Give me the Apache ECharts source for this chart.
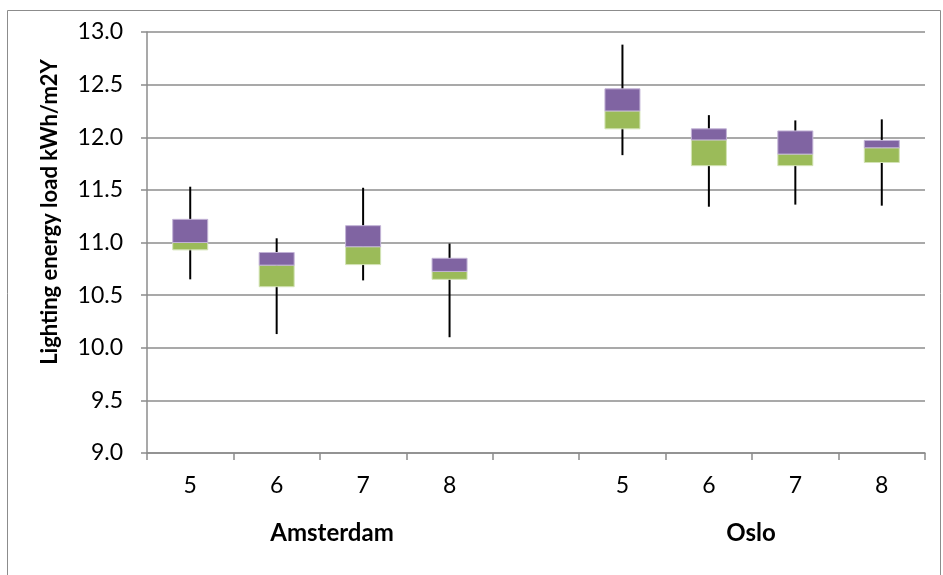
<!DOCTYPE html>
<html>
<head>
<meta charset="utf-8">
<script src="https://cdn.jsdelivr.net/npm/echarts@6/dist/echarts.min.js"></script>
<style>
  html, body { margin: 0; padding: 0; background: #ffffff; }
  #chart { width: 943px; height: 575px; }
</style>
</head>
<body>
<div id="chart"></div>
<script>
// Categories (blank slot separates the two cities)
const categories = ['5', '6', '7', '8', '', '5', '6', '7', '8'];
const groupLabels = ['Amsterdam', 'Oslo'];
const yTitle = 'Lighting energy load kWh/m2Y';
// Box-plot statistics (kWh/m2Y)
const minValues    = [10.65, 10.13, 10.64, 10.10, null, 11.83, 11.34, 11.36, 11.35];
const q1Values     = [10.93, 10.58, 10.79, 10.65, null, 12.08, 11.73, 11.73, 11.76];
const medianValues = [11.00, 10.785, 10.96, 10.725, null, 12.25, 11.975, 11.84, 11.90];
const q3Values     = [11.22, 10.905, 11.16, 10.85, null, 12.46, 12.08, 12.06, 11.97];
const maxValues    = [11.53, 11.04, 11.52, 10.99, null, 12.88, 12.21, 12.16, 12.17];
const yTicks = { min: 9, max: 13, interval: 0.5 };

const boxData = [];
categories.forEach((c, i) => {
  if (minValues[i] == null) return;
  boxData.push([i, minValues[i], q1Values[i], medianValues[i], q3Values[i], maxValues[i]]);
});

const FONT = 'Lato';
const chart = echarts.init(document.getElementById('chart'), null, { renderer: 'canvas' });

chart.setOption({
  backgroundColor: '#ffffff',
  animation: false,
  grid: { left: 147, right: 18, top: 32, bottom: 122, containLabel: false },
  xAxis: {
    type: 'category',
    data: categories,
    boundaryGap: true,
    axisLine: { show: true, lineStyle: { color: '#8c8c8c', width: 1.5 } },
    axisTick: { show: true, alignWithLabel: false, length: 7, lineStyle: { color: '#8c8c8c', width: 1.5 } },
    axisLabel: { color: '#000', fontFamily: FONT, fontSize: 23, margin: 21, interval: 0 },
    splitLine: { show: false }
  },
  yAxis: {
    type: 'value',
    min: yTicks.min, max: yTicks.max, interval: yTicks.interval,
    axisLine: { show: true, lineStyle: { color: '#8c8c8c', width: 1.5 } },
    axisTick: { show: true, length: 6, lineStyle: { color: '#8c8c8c', width: 1.5 } },
    axisLabel: { color: '#000', fontFamily: FONT, fontSize: 23, margin: 24, formatter: v => v.toFixed(1) },
    splitLine: { show: true, lineStyle: { color: '#8c8c8c', width: 1.5 } }
  },
  graphic: [
    { type: 'rect', silent: true, z: -10,
      shape: { x: 7.5, y: 10.5, width: 933, height: 580 },
      style: { fill: 'none', stroke: '#8c8c8c', lineWidth: 1 } },
    { type: 'text', silent: true, x: 50, y: 212, rotation: Math.PI / 2,
      style: { text: yTitle, fill: '#000', font: 'bold 22px ' + FONT, align: 'center', verticalAlign: 'middle' } },
    { type: 'text', silent: true, x: 332, y: 533,
      style: { text: groupLabels[0], fill: '#000', font: 'bold 24px ' + FONT, align: 'center', verticalAlign: 'middle' } },
    { type: 'text', silent: true, x: 751, y: 533,
      style: { text: groupLabels[1], fill: '#000', font: 'bold 24px ' + FONT, align: 'center', verticalAlign: 'middle' } }
  ],
  series: [{
    type: 'custom',
    data: boxData,
    encode: { x: 0, y: [1, 2, 3, 4, 5] },
    renderItem: function (params, api) {
      const x = api.value(0);
      const pMin = api.coord([x, api.value(1)]);
      const pQ1 = api.coord([x, api.value(2)]);
      const pMed = api.coord([x, api.value(3)]);
      const pQ3 = api.coord([x, api.value(4)]);
      const pMax = api.coord([x, api.value(5)]);
      const w = api.size([1, 0])[0] * 0.405;
      const cx = pMin[0];
      return {
        type: 'group',
        children: [
          { type: 'line', shape: { x1: cx, y1: pMax[1], x2: cx, y2: pMin[1] },
            style: { stroke: '#000', lineWidth: 2 } },
          { type: 'rect', shape: { x: cx - w / 2, y: pMed[1], width: w, height: pQ1[1] - pMed[1] },
            style: { fill: '#9BBB59', stroke: '#d3e3b5', lineWidth: 1 } },
          { type: 'rect', shape: { x: cx - w / 2, y: pQ3[1], width: w, height: pMed[1] - pQ3[1] },
            style: { fill: '#8064A2', stroke: '#c2b3d6', lineWidth: 1 } }
        ]
      };
    }
  }]
});
</script>
</body>
</html>
